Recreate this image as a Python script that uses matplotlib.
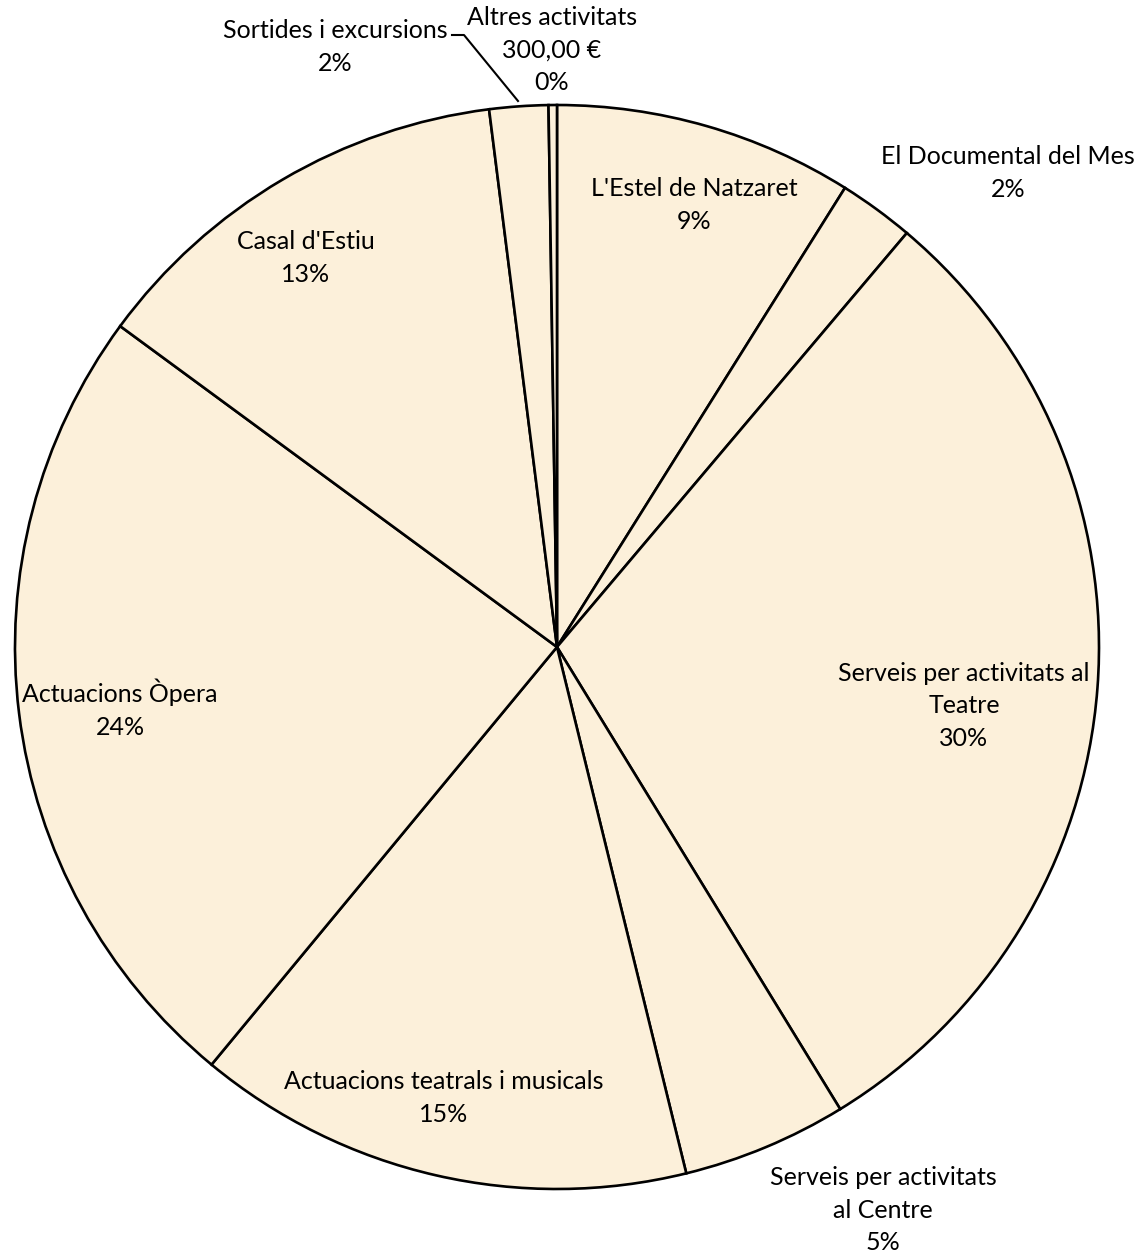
import matplotlib
matplotlib.use("Agg")
import matplotlib.pyplot as plt

# -----------------------------
# Dades (euros)
# -----------------------------
categories = [
    "L'Estel de Natzaret",
    "El Documental del Mes",
    "Serveis per activitats al\nTeatre",
    "Serveis per activitats\nal Centre",
    "Actuacions teatrals i musicals",
    "Actuacions Òpera",
    "Casal d'Estiu",
    "Sortides i excursions",
    "Altres activitats",
]
values = [10700, 2700, 36100, 5900, 17800, 28900, 15500, 2100, 300]

# posicions de les etiquetes (pixels de la imatge)
label_px = [
    (694, 205), (1008, 173), (964, 706), (883, 1210),
    (444, 1098), (120, 709), (306, 258), (335, 47), (552, 50),
]

W, H = 1138, 1254
CX, CY, R = 557, 647, 542
FILL = "#FCF0DA"


def to_data(px, py):
    return (px - CX) / R, (CY - py) / R


def main():
    plt.rcParams["font.family"] = ["Lato", "DejaVu Sans"]
    fig = plt.figure(figsize=(W / 100, H / 100), dpi=100)
    ax = fig.add_axes([0, 0, 1, 1])
    ax.axis("off")

    ax.pie(values, startangle=90, counterclock=False, radius=1.0,
           colors=[FILL] * len(values),
           wedgeprops=dict(edgecolor="black", linewidth=1.9))
    ax.set_xlim(-CX / R, (W - CX) / R)
    ax.set_ylim((CY - H) / R, CY / R)
    ax.set_aspect("equal")

    total = sum(values)
    for name, v, (px, py) in zip(categories, values, label_px):
        pct = f"{round(100 * v / total):d}%"
        if name == "Altres activitats":
            euros = f"{v:,.2f}".replace(",", "X").replace(".", ",").replace("X", ".")
            txt = f"{name}\n{euros} €\n{pct}"
        else:
            txt = f"{name}\n{pct}"
        x, y = to_data(px, py)
        ax.text(x, y, txt, ha="center", va="center", fontsize=18,
                linespacing=1.5, color="black")

    # línia guia de "Sortides i excursions"
    pts = [to_data(452, 35), to_data(464, 35), to_data(518, 101)]
    ax.plot([p[0] for p in pts], [p[1] for p in pts], color="black", lw=1.5)

    fig.savefig("out.png", dpi=100, facecolor="white")
    plt.close(fig)


if __name__ == "__main__":
    main()
